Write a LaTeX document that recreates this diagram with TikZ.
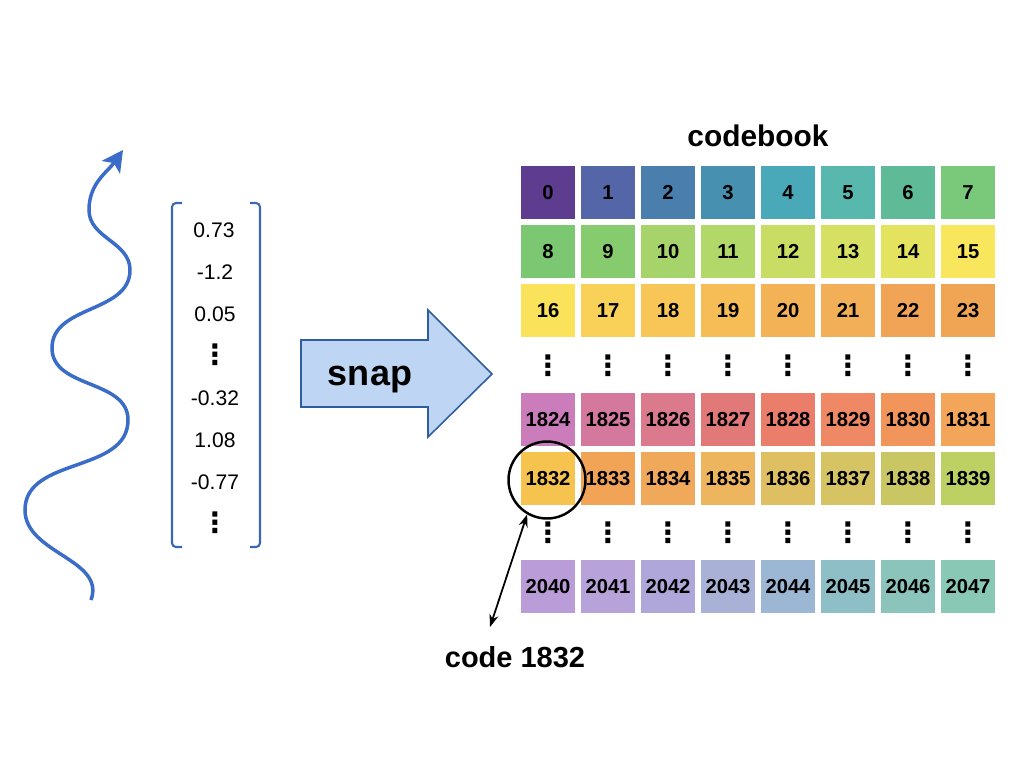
\documentclass[tikz,border=0pt]{standalone}
\usepackage{fontspec}
\setmainfont{Liberation Sans}
\newfontfamily\dotsfont{DejaVu Sans}
\usetikzlibrary{arrows.meta,positioning}
\definecolor{WaveBlue}{RGB}{58, 108, 200}
\definecolor{BracketBlue}{RGB}{58, 104, 180}
\definecolor{SnapFill}{RGB}{190, 213, 243}
\definecolor{SnapEdge}{RGB}{47, 94, 158}

\begin{document}
\begin{tikzpicture}[x=0.02cm, y=-0.02cm,
    cellbox/.style={rectangle, minimum width=1.08cm, minimum height=1.06cm, inner sep=0pt, text height=8.3pt, text depth=0pt, font=\fontsize{11.5}{13}\selectfont\bfseries},
    entry/.style={anchor=base, inner sep=0pt, font=\fontsize{12}{14}\selectfont},
    dotcol/.style={inner sep=0pt, font=\dotsfont\bfseries\fontsize{16}{16}\selectfont},
    heading/.style={anchor=base, inner sep=0pt, font=\fontsize{17}{20}\selectfont\bfseries},
    wave/.style={line width=2pt, WaveBlue, -{Stealth[length=0.42cm, width=0.44cm, inset=0.1cm]}},
    bracket/.style={line width=1.2pt, BracketBlue, rounded corners=0.08cm},
    snapbody/.style={draw=SnapEdge, fill=SnapFill, line width=0.9pt},
    ringmark/.style={circle, draw, line width=1.4pt, minimum size=1.54cm, inner sep=0pt},
    tagarrow/.style={{Stealth[length=0.25cm, width=0.18cm]}-{Stealth[length=0.25cm, width=0.18cm]}, line width=1pt}
  ]
    \useasboundingbox (0,0) rectangle (1024,768);

    % signal
    \draw[wave] (91,600) to[out=70, in=-90] (25,510) to[out=90, in=-90] (128,420)
      to[out=90, in=-90] (52,348) to[out=90, in=-90] (130,270)
      to[out=90, in=-90] (89,210) to[out=90, in=-125] (123,150);

    % embedding vector
    \draw[bracket] (182,203) -- (172,203) -- (172,547) -- (182,547);
    \draw[bracket] (250,203) -- (260,203) -- (260,547) -- (250,547);
    \node[entry] (v1) at (214,237) {0.73};
    \node[entry] (v2) at (215,279) {-1.2};
    \node[entry] (v3) at (215,321) {0.05};
    \node[dotcol] (v4) at (215,355) {⋮};
    \node[entry] (v5) at (215,405) {-0.32};
    \node[entry] (v6) at (215,447) {1.08};
    \node[entry] (v7) at (215,489) {-0.77};
    \node[dotcol] (v8) at (215,523) {⋮};

    % snap arrow
    \draw[snapbody] (301,340) -- (428,340) -- (428,310) -- (492,374) -- (428,437) -- (428,407) -- (301,407) -- cycle;
    \node[heading, font=\fontsize{20.5}{24}\selectfont\bfseries] (snap) at (370,385) {snap};

    % codebook
    \node[heading] (title) at (758,146) {codebook};
    \foreach \n/\hex [count=\k from 0] in {0/5E3C8F, 1/5566A8, 2/4A7EAD, 3/4790B0, 4/4AA9B9, 5/58B8AE, 6/5FBA98, 7/7AC87A} {
      \definecolor{cellfill}{HTML}{\hex}
      \node[cellbox, fill=cellfill] (c\n) at (548+60*\k,192) {\n};
    }
    \foreach \n/\hex [count=\k from 0] in {8/7CC872, 9/86CB6D, 10/A6D46A, 11/B3D86A, 12/C9DD64, 13/D6E062, 14/E3E35F, 15/F8E65C} {
      \definecolor{cellfill}{HTML}{\hex}
      \node[cellbox, fill=cellfill] (c\n) at (548+60*\k,251) {\n};
    }
    \foreach \n/\hex [count=\k from 0] in {16/FAE25A, 17/F9D158, 18/F7C656, 19/F6BC55, 20/F4B256, 21/F3AE58, 22/F1A456, 23/F0A555} {
      \definecolor{cellfill}{HTML}{\hex}
      \node[cellbox, fill=cellfill] (c\n) at (548+60*\k,310) {\n};
    }
    \foreach \n/\hex [count=\k from 0] in {1824/CB7CBA, 1825/D4789E, 1826/DB7A8C, 1827/E27979, 1828/EB7D6B, 1829/EF8865, 1830/F1955B, 1831/F3A65A} {
      \definecolor{cellfill}{HTML}{\hex}
      \node[cellbox, fill=cellfill] (c\n) at (548+60*\k,419) {\n};
    }
    \foreach \n/\hex [count=\k from 0] in {1832/F6C34E, 1833/F1A456, 1834/F0A85B, 1835/EDB55E, 1836/DEBF62, 1837/D5C364, 1838/C8C763, 1839/BCD063} {
      \definecolor{cellfill}{HTML}{\hex}
      \node[cellbox, fill=cellfill] (c\n) at (548+60*\k,478) {\n};
    }
    \foreach \n/\hex [count=\k from 0] in {2040/BA9CD9, 2041/B8A2DA, 2042/AFA7D9, 2043/A9B2D6, 2044/9CB7D4, 2045/8EBFC6, 2046/8AC4BA, 2047/88C8B4} {
      \definecolor{cellfill}{HTML}{\hex}
      \node[cellbox, fill=cellfill] (c\n) at (548+60*\k,586) {\n};
    }
    \foreach \k in {0,...,7} {
      \node[dotcol] (ga\k) at (548+60*\k,366) {⋮};
      \node[dotcol] (gb\k) at (548+60*\k,533) {⋮};
    }

    % chosen code
    \node[ringmark] (pick) at (547,480) {};
    \node[heading, font=\fontsize{16.5}{20}\selectfont\bfseries] (tag) at (515,667) {code 1832};
    \coordinate (tagend) at (490,627);
    \draw[tagarrow] (pick.240) -- (tagend);
  \end{tikzpicture}
\end{document}
